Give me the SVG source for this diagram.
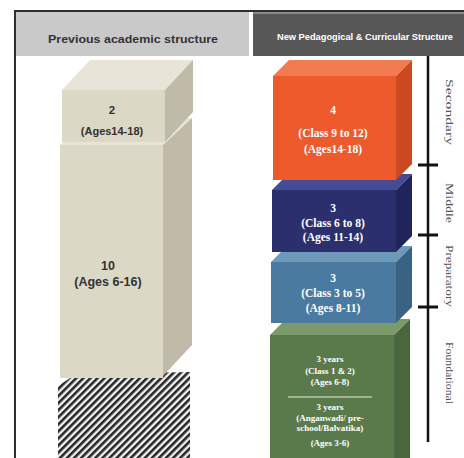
<svg xmlns="http://www.w3.org/2000/svg" width="464" height="458" viewBox="0 0 464 458">
<defs>
<pattern id="hatch" patternUnits="userSpaceOnUse" width="5" height="5" patternTransform="rotate(45)">
<rect width="5" height="5" fill="#f2f2f2"/>
<rect width="2.6" height="5" fill="#262626"/>
</pattern>
</defs>
<style>
.ltx{font-family:"Liberation Sans",Arial,sans-serif;font-weight:bold;fill:#333333;text-anchor:middle}
.rtx{font-family:"Liberation Serif","Times New Roman",serif;font-weight:bold;fill:#ffffff;text-anchor:middle;font-size:11.5px}
.gtx{font-family:"Liberation Serif","Times New Roman",serif;font-weight:bold;fill:#ffffff;text-anchor:middle;font-size:9px}
.side{font-family:"Liberation Serif","Times New Roman",serif;fill:#555;font-size:10.5px;text-anchor:middle;dominant-baseline:central}
.cf{fill:#dcd8c6}.ct{fill:#e8e5d8}.cs{fill:#bfbba8}
</style>
<rect width="464" height="458" fill="#ffffff"/>
<g id="frame">
<rect x="14" y="10" width="450" height="2" fill="#2e2e2e"/>
<rect x="14" y="10" width="2" height="448" fill="#2e2e2e"/>
</g>
<g id="header-left">
<rect x="16" y="12" width="233" height="44" fill="#c9c9c9"/>
<text class="ltx" x="133" y="43" font-size="11" textLength="170" lengthAdjust="spacingAndGlyphs">Previous academic structure</text>
</g>
<g id="header-right">
<rect x="253" y="12" width="211" height="44" fill="#575757"/>
<rect x="253" y="12" width="211" height="2" fill="#8a8a8a"/>
<text x="365" y="40" font-family="Liberation Sans,Arial,sans-serif" font-weight="bold" font-size="8.5" fill="#ffffff" text-anchor="middle" textLength="176" lengthAdjust="spacingAndGlyphs">New Pedagogical &amp; Curricular  Structure</text>
</g>
<g id="old-preschool">
<polygon points="58,386 76,374 190,372 190,458 58,458" fill="url(#hatch)"/>
</g>
<g id="old-10">
<polygon class="ct" points="60,145 163,145 192,118 89,118"/>
<rect class="cf" x="60" y="145" width="103" height="233"/>
<polygon class="cs" points="163,145 192,118 192,345 163,376"/>
<text class="ltx" x="108" y="270" font-size="12.5">10</text>
<text class="ltx" x="108" y="286" font-size="12.5">(Ages 6-16)</text>
</g>
<g id="old-2">
<polygon class="ct" points="62,90 165,90 193,60 90,60"/>
<rect class="cf" x="62" y="90" width="103" height="52"/>
<polygon class="cs" points="165,90 193,60 193,112 165,142"/>
<text class="ltx" x="112" y="114" font-size="11.5">2</text>
<text class="ltx" x="112" y="135" font-size="11">(Ages14-18)</text>
</g>
<g id="foundational">
<polygon points="270,335 394,335 410,319 286,319" fill="#7b9a69"/>
<rect x="270" y="335" width="124" height="123" fill="#5b7a4c"/>
<polygon points="394,335 410,319 410,458 394,458" fill="#4a663d"/>
<text class="gtx" x="330" y="362">3 years</text>
<text class="gtx" x="330" y="374">(Class 1 &amp; 2)</text>
<text class="gtx" x="330" y="385">(Ages 6-8)</text>
<line x1="288" y1="397" x2="372" y2="397" stroke="#e8ecd8" stroke-width="1"/>
<text class="gtx" x="330" y="410">3 years</text>
<text class="gtx" x="330" y="421">(Anganwadi/ pre-</text>
<text class="gtx" x="330" y="431">school/Balvatika)</text>
<text class="gtx" x="330" y="446">(Ages 3-6)</text>
</g>
<g id="preparatory">
<polygon points="271,262 396,262 412,246 287,246" fill="#6d9aba"/>
<rect x="271" y="262" width="125" height="61" fill="#4a7aa0"/>
<polygon points="396,262 412,246 412,307 396,323" fill="#3a6383"/>
<text class="rtx" x="333" y="282">3</text>
<text class="rtx" x="333" y="297">(Class 3 to 5)</text>
<text class="rtx" x="333" y="312">(Ages 8-11)</text>
</g>
<g id="middle">
<polygon points="272,190 396,190 412,174 288,174" fill="#454b95"/>
<rect x="272" y="190" width="124" height="62" fill="#2b2f6e"/>
<polygon points="396,190 412,174 412,236 396,252" fill="#20245a"/>
<text class="rtx" x="333" y="212">3</text>
<text class="rtx" x="333" y="227">(Class 6 to 8)</text>
<text class="rtx" x="333" y="241">(Ages 11-14)</text>
</g>
<g id="secondary">
<polygon points="273,76 396,76 412,60 289,60" fill="#f37b52"/>
<rect x="273" y="76" width="123" height="104" fill="#ee5a2c"/>
<polygon points="396,76 412,60 412,164 396,180" fill="#cc4a22"/>
<text class="rtx" x="333" y="114">4</text>
<text class="rtx" x="333" y="137">(Class 9 to 12)</text>
<text class="rtx" x="333" y="153">(Ages14-18)</text>
</g>
<g id="timeline">
<line x1="428" y1="56" x2="428" y2="442" stroke="#111" stroke-width="2.5"/>
<line x1="418" y1="165" x2="438" y2="165" stroke="#111" stroke-width="3"/>
<line x1="418" y1="235" x2="438" y2="235" stroke="#111" stroke-width="3"/>
<line x1="418" y1="307" x2="438" y2="307" stroke="#111" stroke-width="3"/>
</g>
<g id="stage-labels">
<text class="side" transform="translate(449,112) rotate(90)" textLength="66" lengthAdjust="spacingAndGlyphs">Secondary</text>
<text class="side" transform="translate(449,203) rotate(90)" textLength="40" lengthAdjust="spacingAndGlyphs">Middle</text>
<text class="side" transform="translate(449,276) rotate(90)" textLength="62" lengthAdjust="spacingAndGlyphs">Preparatory</text>
<text class="side" transform="translate(449,373) rotate(90)" textLength="62" lengthAdjust="spacingAndGlyphs">Foundational</text>
</g>
</svg>
